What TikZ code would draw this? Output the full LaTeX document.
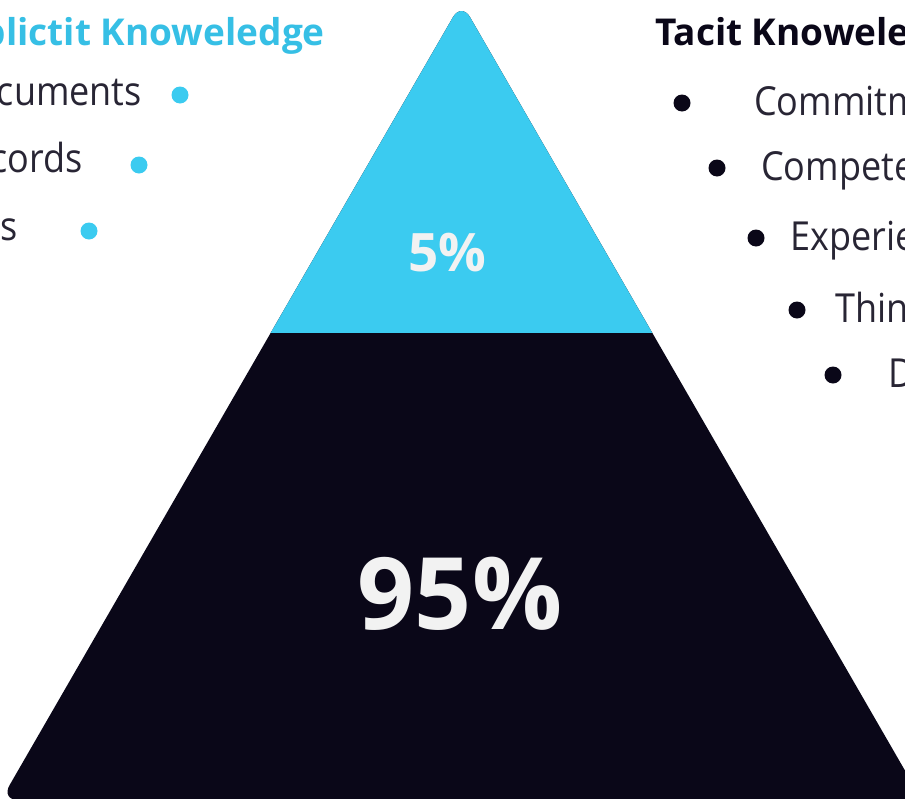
\documentclass[tikz,border=0pt]{standalone}
\usepackage{fontspec}
\setmainfont{Open Sans}
\newfontfamily\listfont[FakeStretch=0.9]{Open Sans}

\definecolor{sky}{HTML}{3BCBF0}
\definecolor{skyhead}{HTML}{36BFE5}
\definecolor{ink}{HTML}{0A0718}
\definecolor{paper}{HTML}{F2F2F2}

\tikzstyle{dot}=[circle,fill,inner sep=0pt,minimum size=17pt]
\tikzstyle{item}=[inner sep=0pt,text=ink!88,font=\listfont\fontsize{40}{48}\selectfont]
\tikzstyle{head}=[inner sep=0pt,font=\fontsize{37}{44}\selectfont\bfseries]
\tikzstyle{pct}=[inner sep=0pt,text=paper]

\begin{document}
\begin{tikzpicture}[x=1pt,y=-1pt]
  \useasboundingbox (0,0) rectangle (905,798);
  \clip (0,0) rectangle (905,798);

  % pyramid: dark body, light tip
  \coordinate (apex) at (461.5,2.4);
  \coordinate (bl) at (1,800);
  \coordinate (br) at (922,800);
  \fill[ink,rounded corners=17pt] (apex) -- (br) -- (bl) -- cycle;
  \begin{scope}
    \clip (0,0) rectangle (905,332);
    \fill[sky,rounded corners=17pt] (apex) -- (br) -- (bl) -- cycle;
  \end{scope}

  \node[pct,font=\fontsize{53}{60}\selectfont\bfseries] (tip) at (447,253) {5\%};
  \node[pct,font=\fontsize{100}{110}\selectfont\bfseries] (body) at (460,594) {95\%};

  % explicit side
  \node[head,text=skyhead,anchor=base east] (exhead) at (325,45) {Explictit Knoweledge};
  \node[item,anchor=base east] (docs) at (142,105) {Documents};
  \node[item,anchor=base east] (recs) at (83,172) {Records};
  \node[item,anchor=base east] (dbs) at (18,240) {Databases};
  \node[dot,sky] (d1) at (180,95) {};
  \node[dot,sky] (d2) at (139,165) {};
  \node[dot,sky] (d3) at (89,231) {};

  % tacit side
  \node[head,text=ink,anchor=base west] (tahead) at (655,45) {Tacit Knoweledge};
  \node[dot,ink] (t1) at (682,103) {};
  \node[dot,ink] (t2) at (717,168) {};
  \node[dot,ink] (t3) at (756,238) {};
  \node[dot,ink] (t4) at (797,310) {};
  \node[dot,ink] (t5) at (833,375) {};
  \node[item,anchor=base west] (commit) at (754,115) {Commitment};
  \node[item,anchor=base west] (compet) at (761,180) {Competence};
  \node[item,anchor=base west] (exper) at (790,250) {Experience};
  \node[item,anchor=base west] (think) at (835,322) {Thinking};
  \node[item,anchor=base west] (decis) at (888,387) {Decisions};
\end{tikzpicture}
\end{document}
